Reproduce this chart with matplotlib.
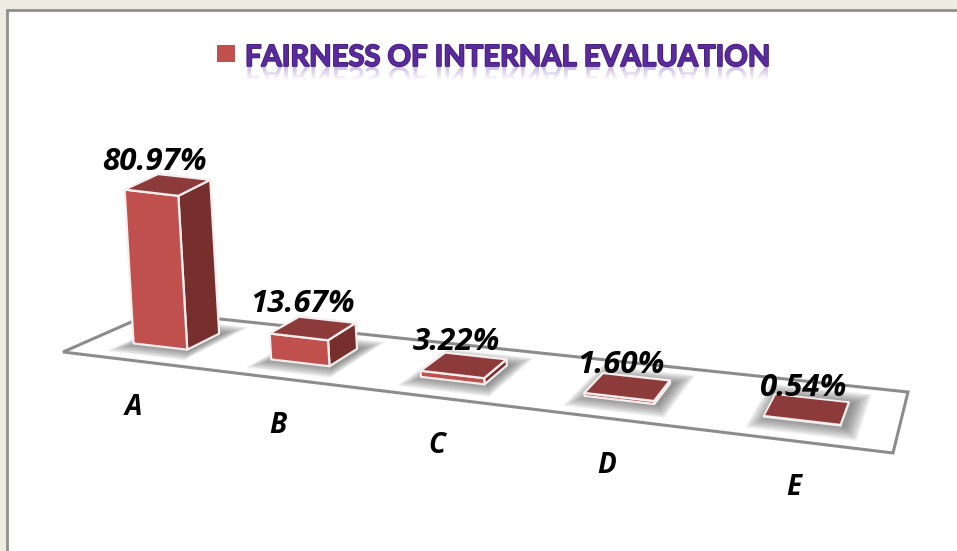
#!/bin/env python3

import numpy as np
import matplotlib
matplotlib.use("Agg")
import matplotlib.pyplot as plt
import matplotlib.patheffects as pe
from matplotlib.font_manager import FontProperties
from matplotlib.patches import PathPatch, Polygon, Rectangle
from matplotlib.textpath import TextPath
from matplotlib.transforms import Affine2D

title = "FAIRNESS OF INTERNAL EVALUATION"
categories = ["A", "B", "C", "D", "E"]
values = [80.97, 13.67, 3.22, 1.60, 0.54]
value_labels = ["80.97%", "13.67%", "3.22%", "1.60%", "0.54%"]

# floor corners on the canvas: front left, front right, back right, back left
floor = np.array([[63, 352], [893, 453], [908, 392], [154, 312]], dtype=float)
px_per_pct = 1.9
lean = 0.058
bar_w = 0.40
bar_d = 0.38
bar_v = 0.50
bar_shift = 0.51

red = "#c0504d"
red_top = "#8c3a3a"
red_side = "#772f2d"
edge = "#f4eeee"

value_nudge = [(-29, -15), (-25, -16), (-19, -14), (-15, -12), (-8, -10)]
cat_nudge = [(-27, 61), (-22, 63), (-16, 65), (-12, 66), (-8, 66)]


def floorMatrix():
    # plane mapping (u, v) -> canvas, u in 0..5 along the categories, v in 0..1 in depth
    src = [(0, 0), (5, 0), (5, 1), (0, 1)]
    rows, rhs = [], []
    for (u, v), (x, y) in zip(src, floor):
        rows.append([u, v, 1, 0, 0, 0, -u * x, -v * x])
        rows.append([0, 0, 0, u, v, 1, -u * y, -v * y])
        rhs += [x, y]
    return np.append(np.linalg.solve(rows, rhs), 1).reshape(3, 3)


H = floorMatrix()


def project(u, v, h=0):
    x, y, w = H @ np.array([u, v, 1.0])
    return np.array([x / w - lean * h, y / w - h])


def drawShadow(ax, u):
    for grow in np.linspace(0.20, 0.01, 12):
        gu = grow * 0.42
        pts = [project(u - bar_w / 2 - gu + 0.02, bar_v - bar_d / 2 - grow),
               project(u + bar_w / 2 + gu + 0.02, bar_v - bar_d / 2 - grow),
               project(u + bar_w / 2 + gu + 0.02, bar_v + bar_d / 2 + grow),
               project(u - bar_w / 2 - gu + 0.02, bar_v + bar_d / 2 + grow)]
        ax.add_patch(Polygon(pts, fc="#505050", ec="none", alpha=0.07, zorder=2))


def drawBar(ax, u, value):
    h = value * px_per_pct
    l, r = u - bar_w / 2, u + bar_w / 2
    f, b = bar_v - bar_d / 2, bar_v + bar_d / 2
    lw = 1.6 if h > 2 else 1.3
    faces = [
        ([project(r, f), project(r, b), project(r, b, h), project(r, f, h)], red_side),
        ([project(l, f), project(r, f), project(r, f, h), project(l, f, h)], red),
        ([project(l, f, h), project(r, f, h), project(r, b, h), project(l, b, h)], red_top),
    ]
    for pts, color in faces:
        ax.add_patch(Polygon(pts, fc=color, ec=edge, lw=lw, joinstyle="round", zorder=3))


def drawTitle(ax):
    ax.add_patch(Rectangle((217, 45), 18, 17, fc=red, ec="none"))
    ax.text(245, 66, title, fontsize=21, fontfamily="Lato", fontweight="bold",
            color="#5b2a9e", ha="left", va="baseline",
            path_effects=[pe.withStroke(linewidth=1.3, foreground="#43207a")], zorder=5)
    # faded reflection under the title
    prop = FontProperties(family="Lato", weight="bold")
    path = TextPath((0, 0), title, size=21 * 100 / 72, prop=prop)
    clip = PathPatch(path, transform=Affine2D().translate(245, 67) + ax.transData,
                     fc="none", ec="none")
    ax.add_patch(clip)
    grad = np.zeros((14, 1, 4))
    grad[..., :3] = matplotlib.colors.to_rgb("#5b2a9e")
    grad[:, 0, 3] = np.linspace(0.30, 0.0, 14)
    img = ax.imshow(grad, extent=(240, 780, 81, 67), aspect="auto", zorder=4)
    img.set_clip_path(clip)


fig = plt.figure(figsize=(9.57, 5.51), dpi=100, facecolor="#eeece1")
ax = fig.add_axes([0, 0, 1, 1])
ax.set_axis_off()

ax.add_patch(Rectangle((7, 9.5), 960, 560, fc="white", ec="#8e8e8e", lw=2, zorder=0))
ax.add_patch(Polygon(floor, fc="white", ec="#8c8c8c", lw=2.2, zorder=1))

for i in range(len(values)):
    drawShadow(ax, i + bar_shift)

for i, (cat, val, lab) in enumerate(zip(categories, values, value_labels)):
    u = i + bar_shift
    drawBar(ax, u, val)
    top = project(u, bar_v + bar_d / 2, val * px_per_pct)
    dx, dy = value_nudge[i]
    ax.text(top[0] + dx, top[1] + dy, lab, fontsize=22.5, fontfamily="Open Sans",
            fontweight="bold", fontstyle="italic", color="black", ha="center",
            va="center", zorder=6)
    base = project(u, bar_v - bar_d / 2)
    dx, dy = cat_nudge[i]
    ax.text(base[0] + dx, base[1] + dy, cat, fontsize=20, fontfamily="Open Sans",
            fontweight="bold", fontstyle="italic", color="black", ha="center",
            va="center", zorder=6)

drawTitle(ax)

ax.set_xlim(0, 957)
ax.set_ylim(551, 0)
fig.savefig("out.png", dpi=100, facecolor=fig.get_facecolor())
